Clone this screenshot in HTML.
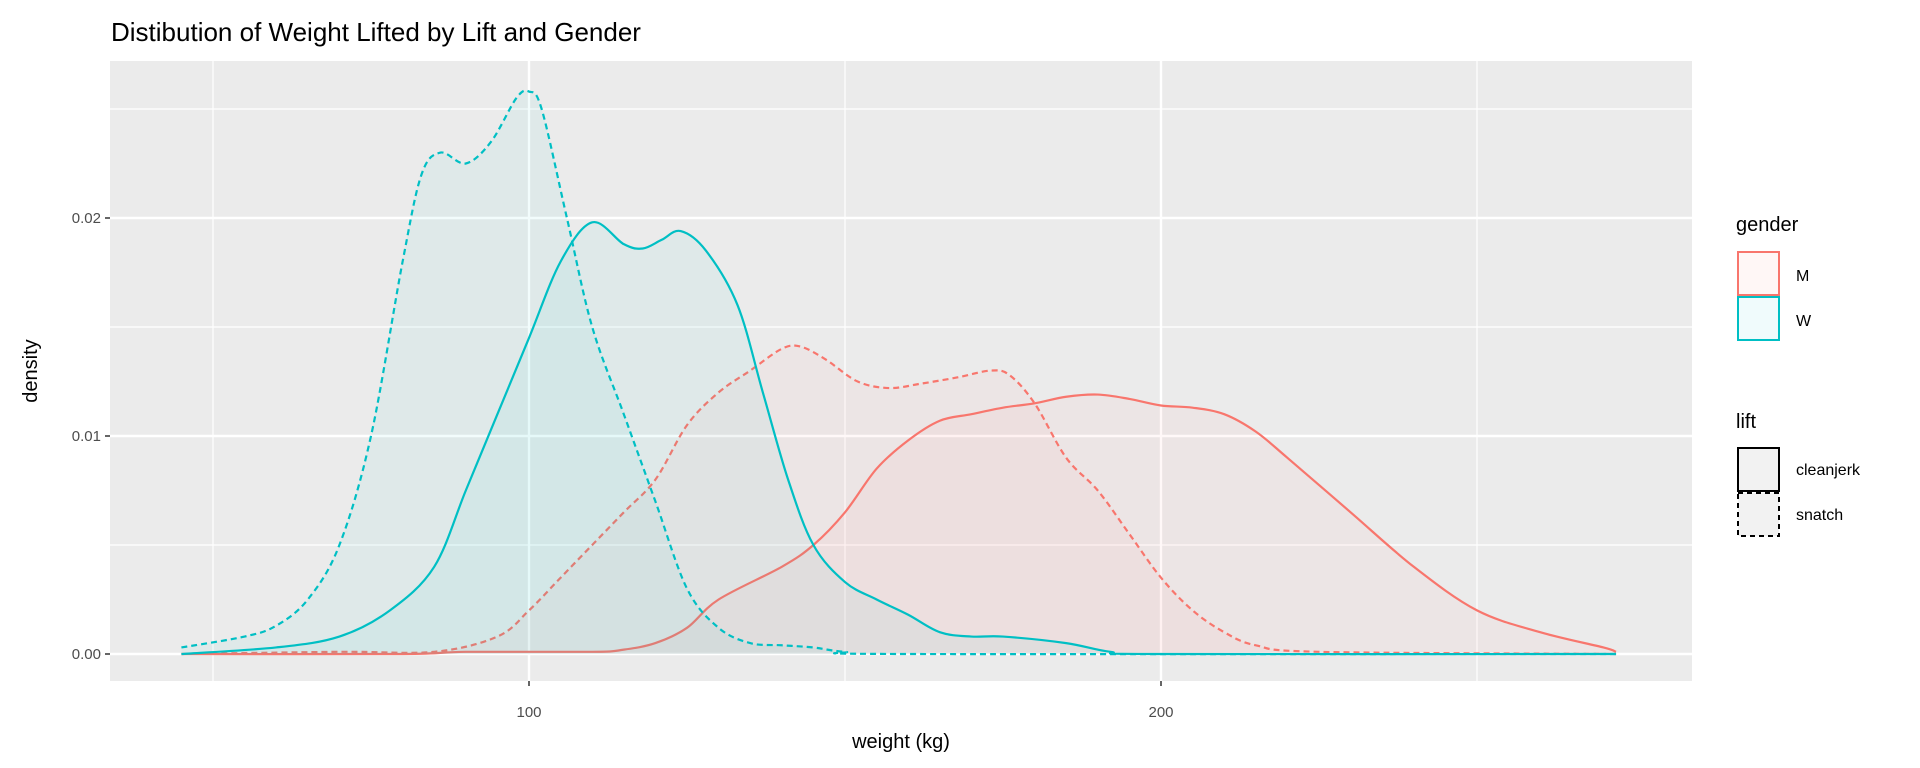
<!DOCTYPE html>
<html><head><meta charset="utf-8"><style>
body{margin:0;background:#fff;}
svg{display:block;font-family:"Liberation Sans",sans-serif;}
</style></head><body>
<svg id="chart" width="1920" height="768">
<rect width="1920" height="768" fill="#fff"/>
<text x="111" y="41" font-size="26" fill="#000">Distibution of Weight Lifted by Lift and Gender</text>
<rect x="110" y="61" width="1582" height="620" fill="#EBEBEB"/>
<g id="grid"></g>
<g id="series"></g>
<g id="axes"></g>
<text x="901" y="748" font-size="20" text-anchor="middle">weight (kg)</text>
<text transform="translate(37,371) rotate(-90)" font-size="20" text-anchor="middle">density</text>
<g>
<text x="1736" y="231" font-size="20">gender</text>
<rect x="1738" y="252" width="41" height="43" fill="#F8766D" fill-opacity="0.06" stroke="#F8766D" stroke-width="2"/>
<text x="1796" y="281" font-size="16">M</text>
<rect x="1738" y="297" width="41" height="43" fill="#00BFC4" fill-opacity="0.06" stroke="#00BFC4" stroke-width="2"/>
<text x="1796" y="326" font-size="16">W</text>
</g>
<g>
<text x="1736" y="428" font-size="20">lift</text>
<rect x="1738" y="448" width="41" height="43" fill="#F2F2F2" stroke="#000" stroke-width="2"/>
<text x="1796" y="475" font-size="16">cleanjerk</text>
<rect x="1738" y="493" width="41" height="43" fill="#F2F2F2" stroke="#000" stroke-width="2" stroke-dasharray="5,4"/>
<text x="1796" y="520" font-size="16">snatch</text>
</g>
</svg>
<script>
const wSnatchX=[45,55,60,65,70,75,80,83,86,90,94,98,100,102,106,110,115,120,125,130,135,140,145,150,160,272];
const wSnatchY=[0.0003,0.0008,0.0013,0.0025,0.005,0.01,0.018,0.022,0.023,0.0225,0.0235,0.0255,0.0258,0.025,0.02,0.015,0.011,0.007,0.003,0.0012,0.0005,0.0004,0.0003,0.0001,0,0];
const wCleanX=[45,60,70,78,85,90,95,100,105,110,115,118,121,124,128,133,137,141,145,150,155,160,165,170,175,185,192,200,272];
const wCleanY=[0,0.0003,0.0008,0.002,0.004,0.0075,0.011,0.0145,0.018,0.0198,0.0188,0.0186,0.019,0.0194,0.0185,0.016,0.012,0.008,0.005,0.0033,0.0025,0.0018,0.001,0.0008,0.0008,0.0005,0.0001,0,0];
const mSnatchX=[45,70,85,95,100,105,110,115,120,125,130,135,140,143,147,152,157,162,168,173,176,180,185,190,195,200,205,210,215,225,272];
const mSnatchY=[0,0.0001,0.0001,0.0008,0.002,0.0035,0.005,0.0065,0.008,0.0105,0.012,0.013,0.014,0.0141,0.0135,0.0125,0.0122,0.0124,0.0127,0.013,0.0128,0.0115,0.009,0.0075,0.0055,0.0035,0.002,0.001,0.0004,0.0001,0];
const mCleanX=[45,80,90,110,115,120,125,130,140,145,150,155,160,165,170,175,180,185,190,195,200,205,210,215,220,230,240,250,260,270,272];
const mCleanY=[0,0,0.0001,0.0001,0.0002,0.0005,0.0012,0.0025,0.004,0.005,0.0065,0.0085,0.0098,0.0107,0.011,0.0113,0.0115,0.0118,0.0119,0.0117,0.0114,0.0113,0.011,0.0102,0.009,0.0065,0.004,0.002,0.001,0.0003,0.0001];
const xTicks=[100,200];
const xMinor=[50,150,250];
const yTicks=[0,0.01,0.02];
const yTickLabels=["0.00","0.01","0.02"];
const yMinor=[0.005,0.015,0.025];

const NS="http://www.w3.org/2000/svg";
const sx=v=>529+(v-100)*6.32;
const sy=v=>654-v*21800;
function mk(tag,attrs,parent){const e=document.createElementNS(NS,tag);for(const k in attrs)e.setAttribute(k,attrs[k]);parent.appendChild(e);return e;}
const grid=document.getElementById('grid'),axes=document.getElementById('axes'),series=document.getElementById('series');
xMinor.forEach(v=>{const l=mk('line',{x1:sx(v),x2:sx(v),y1:61,y2:681,stroke:'#fff','stroke-width':1.2},grid);

});
yMinor.forEach(v=>{const l=mk('line',{x1:110,x2:1692,y1:sy(v),y2:sy(v),stroke:'#fff','stroke-width':1.2},grid);

});
xTicks.forEach(v=>{const l=mk('line',{x1:sx(v),x2:sx(v),y1:61,y2:681,stroke:'#fff','stroke-width':2.4},grid);


mk('line',{x1:sx(v),x2:sx(v),y1:681,y2:686,stroke:'#333','stroke-width':1.5},axes);
const t=mk('text',{x:sx(v),y:717,'font-size':15,fill:'#4D4D4D','text-anchor':'middle'},axes);t.textContent=v;

});
yTicks.forEach((v,i)=>{const l=mk('line',{x1:110,x2:1692,y1:sy(v),y2:sy(v),stroke:'#fff','stroke-width':2.4},grid);


mk('line',{x1:105,x2:110,y1:sy(v),y2:sy(v),stroke:'#333','stroke-width':1.5},axes);
const t=mk('text',{x:101,y:sy(v)+5,'font-size':15,fill:'#4D4D4D','text-anchor':'end'},axes);t.textContent=yTickLabels[i];

});
function pathD(xs,ys){const p=xs.map((x,i)=>[sx(x),sy(ys[i])]);let d='M'+p[0][0]+','+p[0][1];
for(let i=0;i<p.length-1;i++){const p0=p[Math.max(0,i-1)],p1=p[i],p2=p[i+1],p3=p[Math.min(p.length-1,i+2)];
const c1=[p1[0]+(p2[0]-p0[0])/6,p1[1]+(p2[1]-p0[1])/6],c2=[p2[0]-(p3[0]-p1[0])/6,p2[1]-(p3[1]-p1[1])/6];
d+=' C'+c1[0]+','+c1[1]+' '+c2[0]+','+c2[1]+' '+p2[0]+','+p2[1];}return d;}
function draw(xs,ys,color,dash,name){const d=pathD(xs,ys);
const f=mk('path',{d:d+' L'+sx(xs[xs.length-1])+','+sy(0)+' L'+sx(xs[0])+','+sy(0)+' Z',fill:color,'fill-opacity':0.05,stroke:'none'},series);


const l=mk('path',{d:d,fill:'none',stroke:color,'stroke-width':2.2,'stroke-dasharray':dash},series);

}
draw(mCleanX,mCleanY,'#F8766D','none','m-cleanjerk');
draw(mSnatchX,mSnatchY,'#F8766D','6,4','m-snatch');
draw(wCleanX,wCleanY,'#00BFC4','none','w-cleanjerk');
draw(wSnatchX,wSnatchY,'#00BFC4','6,4','w-snatch');
</script>
</body></html>
